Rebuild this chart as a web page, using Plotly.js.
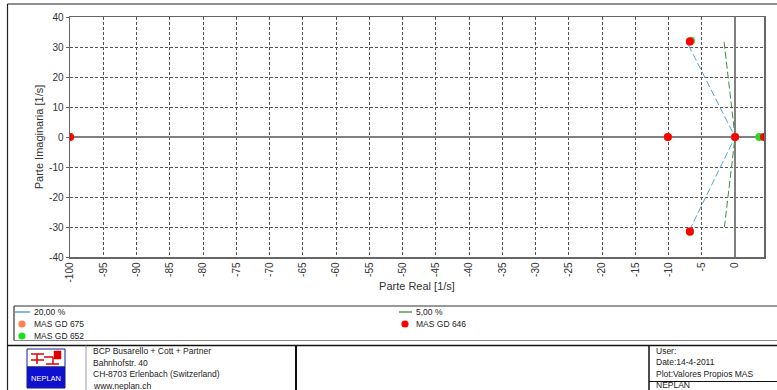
<!DOCTYPE html>
<html>
<head>
<meta charset="utf-8">
<script src="https://cdn.plot.ly/plotly-3.0.1.min.js"></script>
<style>
html,body{margin:0;padding:0;background:#fff;}
#chart{width:777px;height:390px;}
</style>
</head>
<body>
<div id="chart"></div>
<script>
// ---- data ----
const line20X = [-7.0, 0, -6.7];
const line20Y = [30.6, 0, -30.4];
const line5X = [-1.65, 0, -1.6];
const line5Y = [31.7, 0, -30.0];
const mas675X = [-100, -10.1, -6.8, -6.8, 0];
const mas675Y = [0, 0, 31.8, -31.5, 0];
const mas652X = [-6.62, -6.75, 3.65];
const mas652Y = [32.1, -31.6, 0];
const mas646X = [-100, -10.1, -6.8, -6.8, 0, 4.35];
const mas646Y = [0, 0, 31.8, -31.5, 0, 0];
const xTickVals = [-100,-95,-90,-85,-80,-75,-70,-65,-60,-55,-50,-45,-40,-35,-30,-25,-20,-15,-10,-5,0];
const yTickVals = [-40,-30,-20,-10,0,10,20,30,40];
const legendLabels = ["20,00 %", "MAS GD 675", "MAS GD 652", "5,00 %", "MAS GD 646"];
const companyLines = ["BCP Busarello + Cott + Partner", "Bahnhofstr. 40", "CH-8703 Erlenbach (Switzerland)", "www.neplan.ch"];
const infoLines = ["User:", "Date:14-4-2011", "Plot:Valores Propios MAS", "NEPLAN"];

// ---- geometry helpers (pixel -> paper) ----
const W = 777, H = 390, ML = 70, MT = 17, MR = 13, MB = 133;
const PW = W - ML - MR, PH = H - MT - MB;
const px = x => (x - ML) / PW;
const py = y => (H - MB - y) / PH;

const FONT = "Liberation Sans, Arial, sans-serif";
const cBlue = "#5aa2d4", cGreenLine = "#3f8f3f";
const cRed = "#ff0000", cGreen = "#22dd22", cOrange = "#ff7f50";

const traces = [
  {x: line20X, y: line20Y, mode: "lines", line: {color: cBlue, width: 1, dash: "7px,3px"}, name: legendLabels[0], hoverinfo: "skip"},
  {x: line5X, y: line5Y, mode: "lines", line: {color: cGreenLine, width: 1, dash: "7px,3px"}, name: legendLabels[3], hoverinfo: "skip"},
  {x: mas652X, y: mas652Y, mode: "markers", marker: {color: cGreen, size: 8}, name: legendLabels[2]},
  {x: mas675X, y: mas675Y, mode: "markers", marker: {color: cOrange, size: 8}, name: legendLabels[1]},
  {x: mas646X, y: mas646Y, mode: "markers", marker: {color: cRed, size: 8}, name: legendLabels[4]}
];

function hline(x0, x1, y, color, width) {
  return {type: "line", xref: "paper", yref: "paper", x0: px(x0), x1: px(x1), y0: py(y), y1: py(y), line: {color: color, width: width}};
}
function vline(x, y0, y1, color, width) {
  return {type: "line", xref: "paper", yref: "paper", x0: px(x), x1: px(x), y0: py(y0), y1: py(y1), line: {color: color, width: width}};
}
function rect(x0, y0, x1, y1, fill, lineColor, lw) {
  return {type: "rect", xref: "paper", yref: "paper", x0: px(x0), x1: px(x1), y0: py(y1), y1: py(y0), fillcolor: fill, line: {color: lineColor, width: lw}};
}
function dot(cx, cy, r, fill) {
  return {type: "circle", xref: "paper", yref: "paper", x0: px(cx - r), x1: px(cx + r), y0: py(cy + r), y1: py(cy - r), fillcolor: fill, line: {width: 0}};
}
function txt(x, y, s, size, color, anchor) {
  return {xref: "paper", yref: "paper", x: px(x), y: py(y), text: s, showarrow: false, xanchor: anchor || "left", yanchor: "middle", font: {family: FONT, size: size, color: color || "#222"}};
}

const shapes = [
  // outer frame
  vline(7.5, 4, 390, "#222", 1.2),
  hline(7.5, 777, 4, "#222", 1.2),
  // legend box
  hline(14, 777, 306, "#333", 1.2),
  hline(14, 777, 340.5, "#888", 1),
  vline(14, 306, 340.5, "#333", 1.2),
  // title block
  hline(7.5, 777, 345.5, "#111", 1.5),
  vline(86, 345.5, 390, "#999", 1),
  vline(296, 345.5, 390, "#111", 2),
  vline(649, 345.5, 390, "#111", 1.5),
  hline(649, 777, 381.5, "#111", 1),
  // legend symbols
  hline(15, 30, 312, cBlue, 1.5),
  dot(22, 324, 3.6, cOrange),
  dot(22, 336, 3.6, cGreen),
  hline(399, 412, 312, "#5a9a5a", 1.5),
  dot(405, 324, 3.6, cRed),
  // logo
  rect(27, 349, 65, 367, "#ffffff", "#1a1a8a", 1),
  rect(27, 367, 65, 388, "#1010d0", "#1a1a8a", 1),
  hline(31, 44, 354, "#e00000", 1.5),
  hline(31, 44, 360, "#e00000", 1.5),
  vline(37, 354, 364, "#e00000", 1.5),
  hline(44, 53, 357, "#e00000", 1.5),
  vline(53, 357, 364, "#e00000", 1.5),
  hline(46, 59, 364, "#e00000", 1.5),
  rect(54, 351, 61, 359, "#e00000", "#e00000", 0.5)
];

const annotations = [
  txt(32, 312, legendLabels[0], 8.5),
  txt(32, 324, legendLabels[1], 8.5),
  txt(32, 336, legendLabels[2], 8.5),
  txt(414, 312, legendLabels[3], 8.5),
  txt(414, 324, legendLabels[4], 8.5),
  txt(46, 378, "NEPLAN", 7.5, "#ffffff", "center")
];
companyLines.forEach((s, i) => annotations.push(txt(91, 351 + i * 11.5, s, 8.5)));
infoLines.forEach((s, i) => annotations.push(txt(654, 350.5 + i * 11.6, s, 8.5)));

const layout = {
  width: W, height: H,
  margin: {l: ML, r: MR, t: MT, b: MB, pad: 0},
  paper_bgcolor: "#ffffff", plot_bgcolor: "#ffffff",
  showlegend: false,
  font: {family: FONT, size: 10, color: "#333"},
  xaxis: {
    range: [-100, 4.35], tickvals: xTickVals, ticktext: xTickVals.map(String),
    tickangle: -90, tickfont: {family: FONT, size: 10, color: "#333"},
    showgrid: true, gridcolor: "#555", gridwidth: 1, griddash: "3px,2px",
    zeroline: true, zerolinecolor: "#808080", zerolinewidth: 2,
    showline: true, mirror: true, linecolor: "#666", linewidth: 1.5,
    ticks: "", automargin: false,
    title: {text: "Parte Real [1/s]", font: {family: FONT, size: 11, color: "#333"}, standoff: 1}
  },
  yaxis: {
    range: [-40, 40], tickvals: yTickVals, ticktext: yTickVals.map(String),
    tickfont: {family: FONT, size: 10, color: "#333"},
    showgrid: true, gridcolor: "#555", gridwidth: 1, griddash: "3px,2px",
    zeroline: true, zerolinecolor: "#808080", zerolinewidth: 2,
    showline: true, mirror: true, linecolor: "#666", linewidth: 1.5,
    ticks: "outside", ticklen: 3, tickcolor: "#666", automargin: false,
    title: {text: "Parte Imaginaria [1/s]", font: {family: FONT, size: 11, color: "#333"}, standoff: 3}
  },
  shapes: shapes,
  annotations: annotations
};

Plotly.newPlot("chart", traces, layout, {displayModeBar: false, staticPlot: true});
</script>
</body>
</html>
